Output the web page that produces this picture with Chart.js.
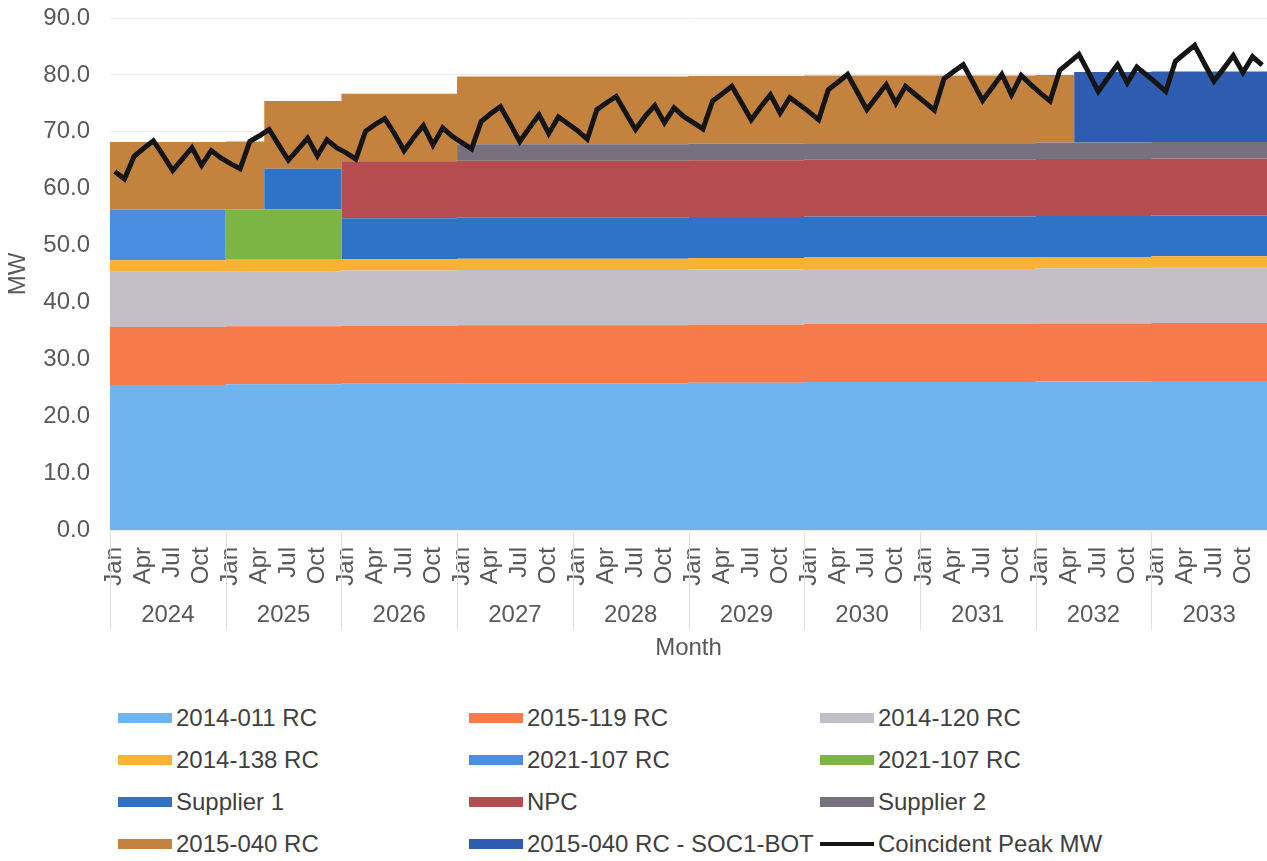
<!DOCTYPE html>
<html>
<head>
<meta charset="utf-8">
<title>Monthly capacity stack vs coincident peak</title>
<style>
  html, body { margin: 0; padding: 0; background: #ffffff; }
  #wrap { position: relative; width: 1267px; height: 861px; overflow: hidden; }
  #chartBox { position: absolute; left: 0; top: 0; width: 1267px; height: 680px; }
  #legend { position: absolute; left: 0; top: 704px; width: 1267px; height: 157px;
            font-family: "Liberation Sans", Arial, sans-serif; font-size: 24px; color: #404040; }
  .item { position: absolute; height: 28px; display: flex; align-items: center; white-space: nowrap; }
  .sw { width: 54px; height: 10px; margin-right: 4px; flex: none; }
  .sw.line { height: 4px; background: #141414; }
</style>
<script src="https://cdn.jsdelivr.net/npm/chart.js@4.4.1/dist/chart.umd.min.js"></script>
</head>
<body>
<div id="wrap">
  <div id="chartBox"><canvas id="chart" width="1267" height="680"></canvas></div>
  <div id="legend"></div>
</div>
<script>
// ---- Category labels ----
const years = ['2024', '2025', '2026', '2027', '2028', '2029', '2030', '2031', '2032', '2033'];
const monthNames = ['Jan', 'Feb', 'Mar', 'Apr', 'May', 'Jun', 'Jul', 'Aug', 'Sep', 'Oct', 'Nov', 'Dec'];
const yTicks = [0, 10, 20, 30, 40, 50, 60, 70, 80, 90];

// ---- Monthly MW by resource, Jan 2024 .. Dec 2033 (one row per year) ----
const rc2014_011 = [
  25.5,25.5,25.5,25.5,25.5,25.5,25.5,25.5,25.5,25.5,25.5,25.5,
  25.6,25.6,25.6,25.6,25.6,25.6,25.6,25.6,25.6,25.6,25.6,25.6,
  25.7,25.7,25.7,25.7,25.7,25.7,25.7,25.7,25.7,25.7,25.7,25.7,
  25.8,25.8,25.8,25.8,25.8,25.8,25.8,25.8,25.8,25.8,25.8,25.8,
  25.8,25.8,25.8,25.8,25.8,25.8,25.8,25.8,25.8,25.8,25.8,25.8,
  25.9,25.9,25.9,25.9,25.9,25.9,25.9,25.9,25.9,25.9,25.9,25.9,
  26.0,26.0,26.0,26.0,26.0,26.0,26.0,26.0,26.0,26.0,26.0,26.0,
  26.0,26.0,26.0,26.0,26.0,26.0,26.0,26.0,26.0,26.0,26.0,26.0,
  26.1,26.1,26.1,26.1,26.1,26.1,26.1,26.1,26.1,26.1,26.1,26.1,
  26.2,26.2,26.2,26.2,26.2,26.2,26.2,26.2,26.2,26.2,26.2,26.2
];
const rc2015_119 = [
  10.2,10.2,10.2,10.2,10.2,10.2,10.2,10.2,10.2,10.2,10.2,10.2,
  10.2,10.2,10.2,10.2,10.2,10.2,10.2,10.2,10.2,10.2,10.2,10.2,
  10.2,10.2,10.2,10.2,10.2,10.2,10.2,10.2,10.2,10.2,10.2,10.2,
  10.2,10.2,10.2,10.2,10.2,10.2,10.2,10.2,10.2,10.2,10.2,10.2,
  10.2,10.2,10.2,10.2,10.2,10.2,10.2,10.2,10.2,10.2,10.2,10.2,
  10.2,10.2,10.2,10.2,10.2,10.2,10.2,10.2,10.2,10.2,10.2,10.2,
  10.2,10.2,10.2,10.2,10.2,10.2,10.2,10.2,10.2,10.2,10.2,10.2,
  10.2,10.2,10.2,10.2,10.2,10.2,10.2,10.2,10.2,10.2,10.2,10.2,
  10.2,10.2,10.2,10.2,10.2,10.2,10.2,10.2,10.2,10.2,10.2,10.2,
  10.2,10.2,10.2,10.2,10.2,10.2,10.2,10.2,10.2,10.2,10.2,10.2
];
const rc2014_120 = [
  9.7,9.7,9.7,9.7,9.7,9.7,9.7,9.7,9.7,9.7,9.7,9.7,
  9.7,9.7,9.7,9.7,9.7,9.7,9.7,9.7,9.7,9.7,9.7,9.7,
  9.7,9.7,9.7,9.7,9.7,9.7,9.7,9.7,9.7,9.7,9.7,9.7,
  9.7,9.7,9.7,9.7,9.7,9.7,9.7,9.7,9.7,9.7,9.7,9.7,
  9.7,9.7,9.7,9.7,9.7,9.7,9.7,9.7,9.7,9.7,9.7,9.7,
  9.7,9.7,9.7,9.7,9.7,9.7,9.7,9.7,9.7,9.7,9.7,9.7,
  9.7,9.7,9.7,9.7,9.7,9.7,9.7,9.7,9.7,9.7,9.7,9.7,
  9.7,9.7,9.7,9.7,9.7,9.7,9.7,9.7,9.7,9.7,9.7,9.7,
  9.7,9.7,9.7,9.7,9.7,9.7,9.7,9.7,9.7,9.7,9.7,9.7,
  9.7,9.7,9.7,9.7,9.7,9.7,9.7,9.7,9.7,9.7,9.7,9.7
];
const rc2014_138 = [
  2.0,2.0,2.0,2.0,2.0,2.0,2.0,2.0,2.0,2.0,2.0,2.0,
  2.0,2.0,2.0,2.0,2.0,2.0,2.0,2.0,2.0,2.0,2.0,2.0,
  2.0,2.0,2.0,2.0,2.0,2.0,2.0,2.0,2.0,2.0,2.0,2.0,
  2.0,2.0,2.0,2.0,2.0,2.0,2.0,2.0,2.0,2.0,2.0,2.0,
  2.0,2.0,2.0,2.0,2.0,2.0,2.0,2.0,2.0,2.0,2.0,2.0,
  2.0,2.0,2.0,2.0,2.0,2.0,2.0,2.0,2.0,2.0,2.0,2.0,
  2.0,2.0,2.0,2.0,2.0,2.0,2.0,2.0,2.0,2.0,2.0,2.0,
  2.0,2.0,2.0,2.0,2.0,2.0,2.0,2.0,2.0,2.0,2.0,2.0,
  2.0,2.0,2.0,2.0,2.0,2.0,2.0,2.0,2.0,2.0,2.0,2.0,
  2.0,2.0,2.0,2.0,2.0,2.0,2.0,2.0,2.0,2.0,2.0,2.0
];
const rc2021_107a = [
  8.9,8.9,8.9,8.9,8.9,8.9,8.9,8.9,8.9,8.9,8.9,8.9,
  0,0,0,0,0,0,0,0,0,0,0,0,
  0,0,0,0,0,0,0,0,0,0,0,0,
  0,0,0,0,0,0,0,0,0,0,0,0,
  0,0,0,0,0,0,0,0,0,0,0,0,
  0,0,0,0,0,0,0,0,0,0,0,0,
  0,0,0,0,0,0,0,0,0,0,0,0,
  0,0,0,0,0,0,0,0,0,0,0,0,
  0,0,0,0,0,0,0,0,0,0,0,0,
  0,0,0,0,0,0,0,0,0,0,0,0
];
const rc2021_107b = [
  0,0,0,0,0,0,0,0,0,0,0,0,
  8.9,8.9,8.9,8.9,8.9,8.9,8.9,8.9,8.9,8.9,8.9,8.9,
  0,0,0,0,0,0,0,0,0,0,0,0,
  0,0,0,0,0,0,0,0,0,0,0,0,
  0,0,0,0,0,0,0,0,0,0,0,0,
  0,0,0,0,0,0,0,0,0,0,0,0,
  0,0,0,0,0,0,0,0,0,0,0,0,
  0,0,0,0,0,0,0,0,0,0,0,0,
  0,0,0,0,0,0,0,0,0,0,0,0,
  0,0,0,0,0,0,0,0,0,0,0,0
];
const supplier1 = [
  0,0,0,0,0,0,0,0,0,0,0,0,
  0,0,0,0,7.1,7.1,7.1,7.1,7.1,7.1,7.1,7.1,
  7.2,7.2,7.2,7.2,7.2,7.2,7.2,7.2,7.2,7.2,7.2,7.2,
  7.2,7.2,7.2,7.2,7.2,7.2,7.2,7.2,7.2,7.2,7.2,7.2,
  7.2,7.2,7.2,7.2,7.2,7.2,7.2,7.2,7.2,7.2,7.2,7.2,
  7.2,7.2,7.2,7.2,7.2,7.2,7.2,7.2,7.2,7.2,7.2,7.2,
  7.2,7.2,7.2,7.2,7.2,7.2,7.2,7.2,7.2,7.2,7.2,7.2,
  7.2,7.2,7.2,7.2,7.2,7.2,7.2,7.2,7.2,7.2,7.2,7.2,
  7.2,7.2,7.2,7.2,7.2,7.2,7.2,7.2,7.2,7.2,7.2,7.2,
  7.2,7.2,7.2,7.2,7.2,7.2,7.2,7.2,7.2,7.2,7.2,7.2
];
const npc = [
  0,0,0,0,0,0,0,0,0,0,0,0,
  0,0,0,0,0,0,0,0,0,0,0,0,
  10.0,10.0,10.0,10.0,10.0,10.0,10.0,10.0,10.0,10.0,10.0,10.0,
  10.0,10.0,10.0,10.0,10.0,10.0,10.0,10.0,10.0,10.0,10.0,10.0,
  10.0,10.0,10.0,10.0,10.0,10.0,10.0,10.0,10.0,10.0,10.0,10.0,
  10.0,10.0,10.0,10.0,10.0,10.0,10.0,10.0,10.0,10.0,10.0,10.0,
  10.0,10.0,10.0,10.0,10.0,10.0,10.0,10.0,10.0,10.0,10.0,10.0,
  10.0,10.0,10.0,10.0,10.0,10.0,10.0,10.0,10.0,10.0,10.0,10.0,
  10.0,10.0,10.0,10.0,10.0,10.0,10.0,10.0,10.0,10.0,10.0,10.0,
  10.0,10.0,10.0,10.0,10.0,10.0,10.0,10.0,10.0,10.0,10.0,10.0
];
const supplier2 = [
  0,0,0,0,0,0,0,0,0,0,0,0,
  0,0,0,0,0,0,0,0,0,0,0,0,
  0,0,0,0,0,0,0,0,0,0,0,0,
  2.9,2.9,2.9,2.9,2.9,2.9,2.9,2.9,2.9,2.9,2.9,2.9,
  2.9,2.9,2.9,2.9,2.9,2.9,2.9,2.9,2.9,2.9,2.9,2.9,
  2.9,2.9,2.9,2.9,2.9,2.9,2.9,2.9,2.9,2.9,2.9,2.9,
  2.9,2.9,2.9,2.9,2.9,2.9,2.9,2.9,2.9,2.9,2.9,2.9,
  2.9,2.9,2.9,2.9,2.9,2.9,2.9,2.9,2.9,2.9,2.9,2.9,
  2.9,2.9,2.9,2.9,2.9,2.9,2.9,2.9,2.9,2.9,2.9,2.9,
  2.9,2.9,2.9,2.9,2.9,2.9,2.9,2.9,2.9,2.9,2.9,2.9
];
const rc2015_040 = [
  11.9,11.9,11.9,11.9,11.9,11.9,11.9,11.9,11.9,11.9,11.9,11.9,
  11.9,11.9,11.9,11.9,11.9,11.9,11.9,11.9,11.9,11.9,11.9,11.9,
  11.9,11.9,11.9,11.9,11.9,11.9,11.9,11.9,11.9,11.9,11.9,11.9,
  11.9,11.9,11.9,11.9,11.9,11.9,11.9,11.9,11.9,11.9,11.9,11.9,
  11.9,11.9,11.9,11.9,11.9,11.9,11.9,11.9,11.9,11.9,11.9,11.9,
  11.9,11.9,11.9,11.9,11.9,11.9,11.9,11.9,11.9,11.9,11.9,11.9,
  11.9,11.9,11.9,11.9,11.9,11.9,11.9,11.9,11.9,11.9,11.9,11.9,
  11.9,11.9,11.9,11.9,11.9,11.9,11.9,11.9,11.9,11.9,11.9,11.9,
  11.9,11.9,11.9,11.9,0,0,0,0,0,0,0,0,
  0,0,0,0,0,0,0,0,0,0,0,0
];
const rc2015_040_soc1 = [
  0,0,0,0,0,0,0,0,0,0,0,0,
  0,0,0,0,0,0,0,0,0,0,0,0,
  0,0,0,0,0,0,0,0,0,0,0,0,
  0,0,0,0,0,0,0,0,0,0,0,0,
  0,0,0,0,0,0,0,0,0,0,0,0,
  0,0,0,0,0,0,0,0,0,0,0,0,
  0,0,0,0,0,0,0,0,0,0,0,0,
  0,0,0,0,0,0,0,0,0,0,0,0,
  0,0,0,0,12.4,12.4,12.4,12.4,12.4,12.4,12.4,12.4,
  12.4,12.4,12.4,12.4,12.4,12.4,12.4,12.4,12.4,12.4,12.4,12.4
];
const coincidentPeak = [
  63.0,61.7,65.7,67.1,68.4,65.9,63.2,65.2,67.2,64.1,66.7,65.4,
  64.4,63.5,68.3,69.3,70.4,67.7,65.0,66.9,68.9,65.8,68.6,67.2,
  66.3,65.2,70.1,71.3,72.3,69.7,66.7,69.0,71.1,67.7,70.7,69.2,
  68.1,67.0,71.8,73.2,74.4,71.4,68.3,70.7,73.0,69.7,72.6,71.4,
  70.2,68.7,73.9,75.1,76.2,73.3,70.4,72.7,74.6,71.6,74.2,72.7,
  71.6,70.5,75.4,76.7,78.0,75.1,72.1,74.4,76.5,73.3,76.0,74.8,
  73.5,72.1,77.4,78.7,80.1,77.0,73.9,76.1,78.3,75.0,78.0,76.6,
  75.2,73.8,79.3,80.6,81.8,78.7,75.5,77.8,80.1,76.5,79.9,78.3,
  76.8,75.4,80.8,82.2,83.6,80.4,77.1,79.5,81.8,78.6,81.4,80.0,
  78.6,77.1,82.4,83.8,85.2,82.0,78.9,81.1,83.4,80.4,83.2,81.7
];

// ---- Series definitions (stack order bottom to top) ----
const areaSeries = [
  { label: '2014-011 RC',            values: rc2014_011,      color: '#6fb4ee' },
  { label: '2015-119 RC',            values: rc2015_119,      color: '#f77a4b' },
  { label: '2014-120 RC',            values: rc2014_120,      color: '#c3bfc8' },
  { label: '2014-138 RC',            values: rc2014_138,      color: '#f9b233' },
  { label: '2021-107 RC',            values: rc2021_107a,     color: '#4b8de0' },
  { label: '2021-107 RC',            values: rc2021_107b,     color: '#7db545' },
  { label: 'Supplier 1',             values: supplier1,       color: '#2e73c6' },
  { label: 'NPC',                    values: npc,             color: '#b54c50' },
  { label: 'Supplier 2',             values: supplier2,       color: '#77717f' },
  { label: '2015-040 RC',            values: rc2015_040,      color: '#c4823f' },
  { label: '2015-040 RC - SOC1-BOT', values: rc2015_040_soc1, color: '#2d5cb0' }
];

const FONT = '"Liberation Sans", Arial, sans-serif';
const TEXT = '#595959';
const MONTHS = coincidentPeak.length;

// Each month holds its value across the whole month band [i, i+1].
function monthBands(values) {
  const pts = values.map((v, i) => ({ x: i, y: v }));
  pts.push({ x: values.length, y: values[values.length - 1] });
  return pts;
}
// The peak line runs through the centre of each month.
function monthCentres(values) {
  return values.map((v, i) => ({ x: i + 0.5, y: v }));
}

const datasets = areaSeries.map((s, i) => ({
  label: s.label,
  data: monthBands(s.values),
  backgroundColor: s.color,
  borderColor: 'rgba(0,0,0,0)',
  borderWidth: 0,
  pointRadius: 0,
  stepped: true,
  fill: i === 0 ? 'origin' : '-1',
  stack: 'supply',
  order: 1
}));
datasets.push({
  label: 'Coincident Peak MW',
  data: monthCentres(coincidentPeak),
  borderColor: '#141414',
  backgroundColor: '#141414',
  borderWidth: 5,
  pointRadius: 0,
  tension: 0,
  fill: false,
  stack: 'peak',
  order: 0
});

// Light separators between the year groups under the plot.
const yearDividers = {
  id: 'yearDividers',
  afterDraw(chart) {
    const x = chart.scales.x;
    const { ctx, chartArea } = chart;
    ctx.save();
    ctx.strokeStyle = '#dedede';
    ctx.lineWidth = 1;
    for (let m = 0; m <= MONTHS; m += 12) {
      const px = Math.round(x.getPixelForValue(m)) + 0.5;
      ctx.beginPath();
      ctx.moveTo(px, chartArea.bottom + 2);
      ctx.lineTo(px, chartArea.bottom + 100);
      ctx.stroke();
    }
    ctx.restore();
  }
};

// Let the plot run edge to edge horizontally and start right at the top padding.
function noSidePadding(scale) { scale.paddingLeft = 0; scale.paddingRight = 0; }

const chart = new Chart(document.getElementById('chart'), {
  type: 'line',
  data: { datasets },
  options: {
    responsive: false,
    animation: false,
    events: [],
    layout: { padding: { top: 18, right: 0, bottom: 0, left: 0 } },
    plugins: { legend: { display: false }, tooltip: { enabled: false } },
    scales: {
      x: {
        type: 'linear',
        position: 'bottom',
        min: 0,
        max: MONTHS,
        grid: { display: false },
        border: { display: false },
        afterBuildTicks(scale) {
          const t = [];
          for (let m = 0; m < MONTHS; m += 3) t.push({ value: m + 0.5 });
          scale.ticks = t;
        },
        afterFit(scale) { scale.height = 63; noSidePadding(scale); },
        ticks: {
          autoSkip: false,
          minRotation: 90,
          maxRotation: 90,
          padding: 9,
          color: TEXT,
          font: { family: FONT, size: 24 },
          callback: (v) => monthNames[Math.floor(v) % 12]
        }
      },
      x2: {
        type: 'linear',
        position: 'bottom',
        min: 0,
        max: MONTHS,
        weight: 1,
        grid: { display: false },
        border: { display: false },
        afterBuildTicks(scale) {
          scale.ticks = years.map((y, k) => ({ value: k * 12 + 6 }));
        },
        afterFit(scale) { scale.height = 87; noSidePadding(scale); },
        ticks: {
          autoSkip: false,
          maxRotation: 0,
          minRotation: 0,
          padding: 0,
          color: TEXT,
          font: { family: FONT, size: 24 },
          callback: (v) => years[Math.round((v - 6) / 12)]
        },
        title: {
          display: true,
          text: 'Month',
          color: TEXT,
          font: { family: FONT, size: 24 },
          padding: { top: 0, bottom: 17 }
        }
      },
      y: {
        stacked: true,
        min: 0,
        max: 90,
        afterBuildTicks(scale) { scale.ticks = yTicks.map(v => ({ value: v })); },
        afterFit(scale) { scale.width = 110; scale.paddingTop = 0; scale.paddingBottom = 0; },
        grid: { color: '#ebebeb', drawTicks: false },
        border: { display: false },
        ticks: {
          padding: 20,
          color: TEXT,
          font: { family: FONT, size: 24 },
          callback: (v) => Number(v).toFixed(1)
        },
        title: {
          display: true,
          text: 'MW',
          color: TEXT,
          font: { family: FONT, size: 24 },
          padding: { top: 4, bottom: 2 }
        }
      }
    }
  },
  plugins: [yearDividers]
});

// Legend in three columns, built from the chart's own datasets.
const legendEl = document.getElementById('legend');
chart.data.datasets.forEach((ds, i) => {
  const item = document.createElement('div');
  item.className = 'item';
  item.style.left = (118 + (i % 3) * 351) + 'px';
  item.style.top = (Math.floor(i / 3) * 42) + 'px';
  const sw = document.createElement('span');
  if (ds.fill === false) {
    sw.className = 'sw line';
    sw.style.background = ds.borderColor;
  } else {
    sw.className = 'sw';
    sw.style.background = ds.backgroundColor;
  }
  const txt = document.createElement('span');
  txt.textContent = ds.label;
  item.appendChild(sw);
  item.appendChild(txt);
  legendEl.appendChild(item);
});
</script>
</body>
</html>
